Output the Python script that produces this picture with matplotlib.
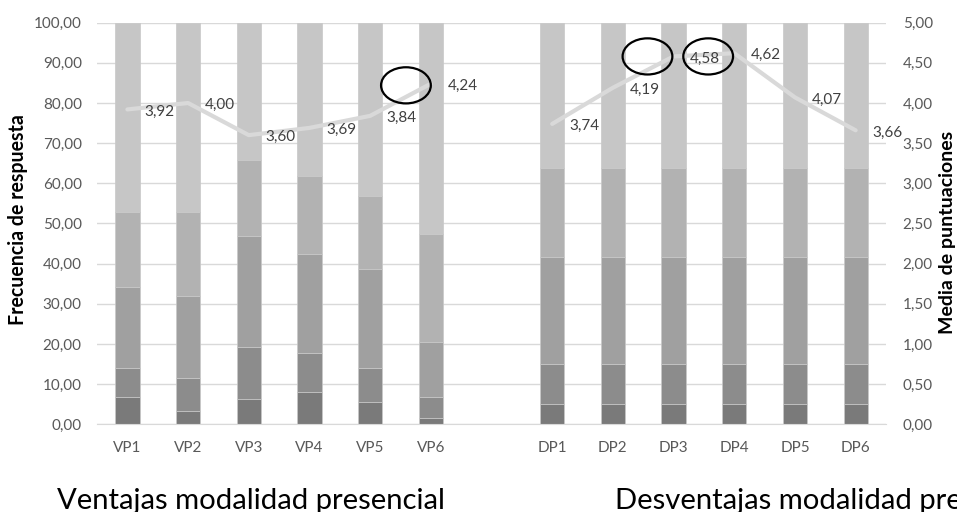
import numpy as np
import matplotlib
matplotlib.use("Agg")
import matplotlib.pyplot as plt
from matplotlib.patches import Ellipse

plt.rcParams['font.family'] = ['Lato', 'DejaVu Sans']

# ---- data ----
vp_labels = ['VP1', 'VP2', 'VP3', 'VP4', 'VP5', 'VP6']
dp_labels = ['DP1', 'DP2', 'DP3', 'DP4', 'DP5', 'DP6']

# stacked frequency segments (bottom -> top), percentages
vp_s1 = [6.7, 3.3, 6.2, 8.0, 5.6, 1.6]
vp_s2 = [7.3, 8.2, 13.0, 9.8, 8.4, 5.1]
vp_s3 = [20.1, 20.5, 27.8, 24.6, 24.7, 13.7]
vp_s4 = [18.8, 20.9, 18.8, 19.3, 18.2, 27.0]
vp_s5 = [47.1, 47.1, 34.2, 38.3, 43.1, 52.6]

dp_s1 = [5.1, 5.1, 5.1, 5.1, 5.1, 5.1]
dp_s2 = [10.0, 10.0, 10.0, 10.0, 10.0, 10.0]
dp_s3 = [26.6, 26.6, 26.6, 26.6, 26.6, 26.6]
dp_s4 = [22.0, 22.0, 22.0, 22.0, 22.0, 22.0]
dp_s5 = [36.3, 36.3, 36.3, 36.3, 36.3, 36.3]

vp_mean = [3.92, 4.00, 3.60, 3.69, 3.84, 4.24]
dp_mean = [3.74, 4.19, 4.58, 4.62, 4.07, 3.66]

left_ticks = [0, 10, 20, 30, 40, 50, 60, 70, 80, 90, 100]
right_ticks = [0, 0.5, 1, 1.5, 2, 2.5, 3, 3.5, 4, 4.5, 5]

# ---- combine with an empty slot between the groups ----
cats = vp_labels + [''] + dp_labels
segments = [vp_s1 + [0] + dp_s1, vp_s2 + [0] + dp_s2, vp_s3 + [0] + dp_s3,
            vp_s4 + [0] + dp_s4, vp_s5 + [0] + dp_s5]
means = vp_mean + [np.nan] + dp_mean
x = np.arange(len(cats))

colors = ['#7a7a7a', '#8c8c8c', '#a0a0a0', '#b2b2b2', '#c6c6c6']

W, H = 957, 512
fig = plt.figure(figsize=(W / 100, H / 100), dpi=100)
ax = fig.add_axes([0.1014, 0.1713, 0.8244, 0.7844])

bottom = np.zeros(len(cats))
for seg, c in zip(segments, colors):
    seg = np.array(seg, dtype=float)
    ax.bar(x, seg, 0.4, bottom=bottom, color=c, edgecolor='#c8c8c8',
           linewidth=0.5, zorder=2)
    bottom += seg

ax.set_xlim(-0.5, len(cats) - 0.5)
ax.set_ylim(0, 100)
ax.set_yticks(left_ticks)
ax.set_yticklabels([f"{v:.2f}".replace('.', ',') for v in left_ticks])
ax.set_xticks([i for i, c in enumerate(cats) if c])
ax.set_xticklabels([c for c in cats if c])
ax.grid(axis='y', color='#d9d9d9', linewidth=1, zorder=0)
ax.set_axisbelow(True)
for s in ['top', 'left', 'right']:
    ax.spines[s].set_visible(False)
ax.spines['bottom'].set_color('#d9d9d9')
ax.tick_params(axis='both', length=0, colors='#595959', labelsize=11)
ax.tick_params(axis='x', pad=12)
ax.tick_params(axis='y', pad=11)

ax2 = ax.twinx()
ax2.set_ylim(0, 5)
ax2.set_yticks(right_ticks)
ax2.set_yticklabels([f"{v:.2f}".replace('.', ',') for v in right_ticks])
for s in ax2.spines.values():
    s.set_visible(False)
ax2.tick_params(axis='y', length=0, colors='#595959', labelsize=11, pad=12)

ax2.plot(x, means, color='#d9d9d9', linewidth=3, zorder=3,
         solid_capstyle='round')
for xi, m in zip(x, means):
    if not np.isnan(m):
        ax2.annotate(f"{m:.2f}".replace('.', ','), (xi, m),
                     xytext=(12, -1.5), textcoords='offset points',
                     ha='left', va='center', fontsize=11, color='#404040',
                     zorder=4)

# annotation ellipses
for cx, cy in [(4.59, 4.22), (8.57, 4.58), (9.57, 4.58)]:
    ax2.add_patch(Ellipse((cx, cy), 0.82, 0.45, fill=False,
                          edgecolor='black', linewidth=1.6, zorder=5,
                          clip_on=False))

# axis titles and group titles
ylab_l = fig.text(18 / W, 1 - 220 / H, 'Frecuencia de respuesta', rotation=90,
                  ha='center', va='center', fontsize=11, fontweight='bold',
                  color='black')
ylab_r = fig.text(948 / W, 1 - 232 / H, 'Media de puntuaciones', rotation=90,
                  ha='center', va='center', fontsize=11, fontweight='bold',
                  color='black')
t1 = fig.text(57 / W, 3 / H, 'Ventajas modalidad presencial', ha='left',
              va='baseline', fontsize=18, color='black')
t2 = fig.text(615 / W, 3 / H, 'Desventajas modalidad presencial', ha='left',
              va='baseline', fontsize=18, color='black')


def fit(t, target):
    r = fig.canvas.get_renderer()
    for _ in range(3):
        bb = t.get_window_extent(r)
        length = max(bb.width, bb.height)
        t.set_fontsize(t.get_fontsize() * target / length)


fig.canvas.draw()
fit(ylab_l, 210)
fit(ylab_r, 203)
fit(t1, 388)
t2.set_fontsize(t1.get_fontsize())

fig.savefig('out.png', dpi=100)
